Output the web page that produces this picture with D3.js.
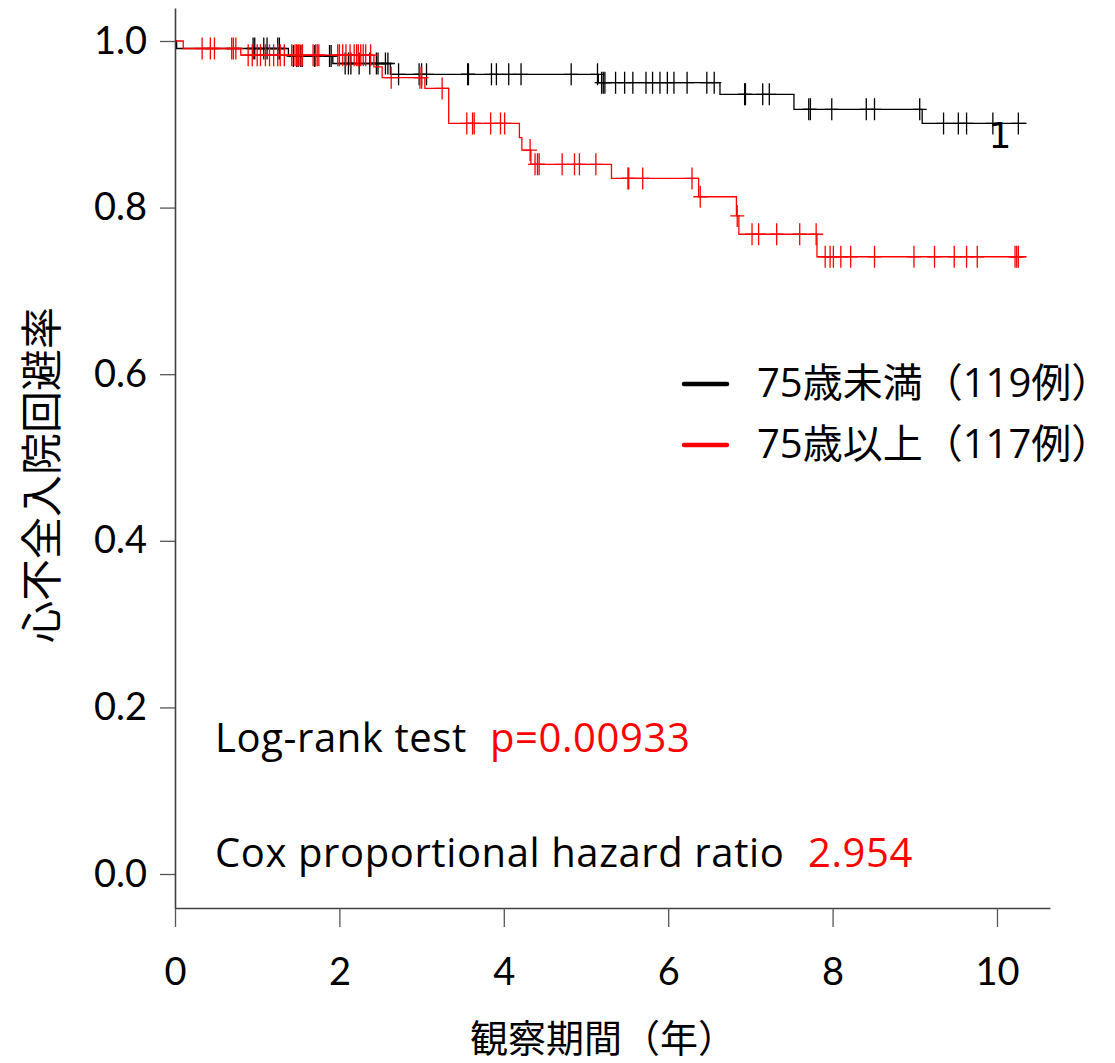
<!DOCTYPE html>
<html>
<head>
<meta charset="utf-8">
<script src="https://cdn.jsdelivr.net/npm/d3@7"></script>
<style>
  body { margin: 0; background: #fff; }
  text { font-family: "Open Sans", "Noto Sans CJK JP", sans-serif; }
</style>
</head>
<body>
<svg id="chart" width="1115" height="1063"></svg>
<script>
// --- step points of each Kaplan-Meier curve (time in years, survival) ---
const blackTime = [0, 0.02, 1.38, 1.92, 2.62, 5.15, 6.63, 7.53, 9.09, 10.36];
const blackSurv = [1.0, 0.991, 0.982, 0.973, 0.960, 0.950, 0.936, 0.918, 0.901, 0.901];
const redTime = [0, 0.10, 0.80, 2.42, 2.52, 3.04, 3.33, 4.19, 4.22, 4.33, 5.31, 6.37, 6.83, 6.86, 7.81, 10.36];
const redSurv = [1.0, 0.991, 0.983, 0.969, 0.956, 0.943, 0.901, 0.884, 0.869, 0.852, 0.835, 0.813, 0.790, 0.768, 0.741, 0.741];

// censored observations
const blackCensor = [0.95, 0.97, 1.08, 1.12, 1.25, 1.27, 1.44, 1.48, 1.50, 1.53, 1.55, 1.70, 1.88, 1.90,
  2.07, 2.11, 2.14, 2.24, 2.37, 2.45, 2.47, 2.56, 2.59, 2.72, 2.97, 3.00, 3.06, 3.56, 3.57,
  3.85, 3.91, 4.06, 4.21, 4.82, 5.14, 5.19, 5.21, 5.23, 5.36, 5.47, 5.57, 5.73, 5.81, 5.90,
  5.99, 6.07, 6.23, 6.47, 6.56, 6.93, 6.94, 7.15, 7.23, 7.71, 7.73, 7.99, 8.41, 8.51, 9.06,
  9.35, 9.53, 9.63, 9.95, 10.26];
const redCensor = [0.33, 0.43, 0.48, 0.69, 0.71, 0.74, 0.89, 0.94, 1.00, 1.04, 1.10, 1.15, 1.20,
  1.25, 1.28, 1.33, 1.42, 1.46, 1.48, 1.50, 1.52, 1.55, 1.68, 1.71, 1.73, 1.75, 1.98, 2.00,
  2.04, 2.08, 2.13, 2.18, 2.21, 2.23, 2.26, 2.29, 2.32, 2.38, 2.63, 2.98, 3.00, 3.25, 3.55,
  3.62, 3.64, 3.84, 3.96, 4.01, 4.32, 4.38, 4.41, 4.43, 4.71, 4.86, 4.92, 5.12, 5.51, 5.52,
  5.69, 6.29, 6.39, 6.84, 7.02, 7.10, 7.32, 7.60, 7.80, 7.91, 7.97, 8.01, 8.10, 8.22, 8.51,
  8.99, 9.24, 9.48, 9.63, 9.76, 10.22, 10.24, 10.26];

const xTicks = [0, 2, 4, 6, 8, 10];
const yTicks = [0, 0.2, 0.4, 0.6, 0.8, 1.0];
const legendLabels = ["75歳未満（119例）", "75歳以上（117例）"];
const seriesColors = ["#000000", "#ff0000"];

const svg = d3.select("#chart");

const x = d3.scaleLinear().domain([0, 10.645]).range([175, 1050]);
const y = d3.scaleLinear().domain([-0.0408, 1.0396]).range([908, 8]);

// axes
const xAxis = svg.append("g")
  .attr("transform", "translate(0,908)")
  .call(d3.axisBottom(x).tickValues(xTicks).tickSize(19).tickSizeOuter(0).tickPadding(8)
    .tickFormat(d3.format("d")));
const yAxis = svg.append("g")
  .attr("transform", "translate(175,0)")
  .call(d3.axisLeft(y).tickValues(yTicks).tickSize(15).tickSizeOuter(0).tickPadding(13)
    .tickFormat(d3.format(".1f")));

[xAxis, yAxis].forEach(a => {
  a.select(".domain").attr("stroke", "#404040").attr("stroke-width", 1.6);
  a.selectAll(".tick line").attr("stroke", "#555").attr("stroke-width", 1.3);
  a.selectAll(".tick text")
    .attr("fill", "#000")
    .style("font-family", "Lato, sans-serif")
    .style("font-size", "38px");
});
xAxis.selectAll(".tick text").attr("y", 50).attr("dy", "0.71em");

// survival at time t from the step arrays
function survAt(times, surv, t) {
  const i = d3.bisectRight(times, t) - 1;
  return surv[Math.max(0, i)];
}

const line = d3.line()
  .x(d => x(d[0]))
  .y(d => y(d[1]))
  .curve(d3.curveStepAfter);

const series = [
  { times: blackTime, surv: blackSurv, censor: blackCensor, color: seriesColors[0] },
  { times: redTime, surv: redSurv, censor: redCensor, color: seriesColors[1] }
];

series.forEach(s => {
  const pts = d3.zip(s.times, s.surv);
  svg.append("path")
    .attr("d", line(pts))
    .attr("fill", "none")
    .attr("stroke", s.color)
    .attr("stroke-width", 1.3);

  svg.append("g")
    .selectAll("path")
    .data(s.censor)
    .enter()
    .append("path")
    .attr("d", t => {
      const cx = x(t), cy = y(survAt(s.times, s.surv, t));
      return `M${cx - 7},${cy}H${cx + 7}M${cx},${cy - 11}V${cy + 11}`;
    })
    .attr("fill", "none")
    .attr("stroke", s.color)
    .attr("stroke-width", 1.3);
});

// stray label on the black curve
svg.append("text")
  .attr("x", 1000).attr("y", 148)
  .attr("text-anchor", "middle")
  .style("font-family", "'DejaVu Sans', sans-serif")
  .style("font-size", "36px")
  .text("1");

// legend
legendLabels.forEach((lab, i) => {
  const ly = 384 + i * 61;
  svg.append("line")
    .attr("x1", 684).attr("x2", 727)
    .attr("y1", ly).attr("y2", ly)
    .attr("stroke", seriesColors[i])
    .attr("stroke-width", 4.5)
    .attr("stroke-linecap", "round");
  svg.append("text")
    .attr("x", 757).attr("y", ly + 13)
    .style("font-size", "40px")
    .text(lab);
});

// statistics
const stat1 = svg.append("text").attr("y", 752).style("font-size", "40px").style("letter-spacing", "0.6px");
stat1.append("tspan").attr("x", 215).text("Log-rank test");
stat1.append("tspan").attr("x", 490).attr("fill", "#ff0000").text("p=0.00933");
const stat2 = svg.append("text").attr("y", 867).style("font-size", "40px").style("letter-spacing", "0.6px");
stat2.append("tspan").attr("x", 215).text("Cox proportional hazard ratio");
stat2.append("tspan").attr("x", 808).attr("fill", "#ff0000").text("2.954");

// axis titles
svg.append("text")
  .attr("transform", "translate(57,475) rotate(-90)")
  .attr("text-anchor", "middle")
  .style("font-family", "'Noto Sans CJK JP', sans-serif")
  .style("font-size", "42px")
  .text("心不全入院回避率");

svg.append("text")
  .attr("x", 603).attr("y", 1052)
  .attr("text-anchor", "middle")
  .style("font-family", "'Noto Sans CJK JP', sans-serif")
  .style("font-size", "38px")
  .text("観察期間（年）");
</script>
</body>
</html>
